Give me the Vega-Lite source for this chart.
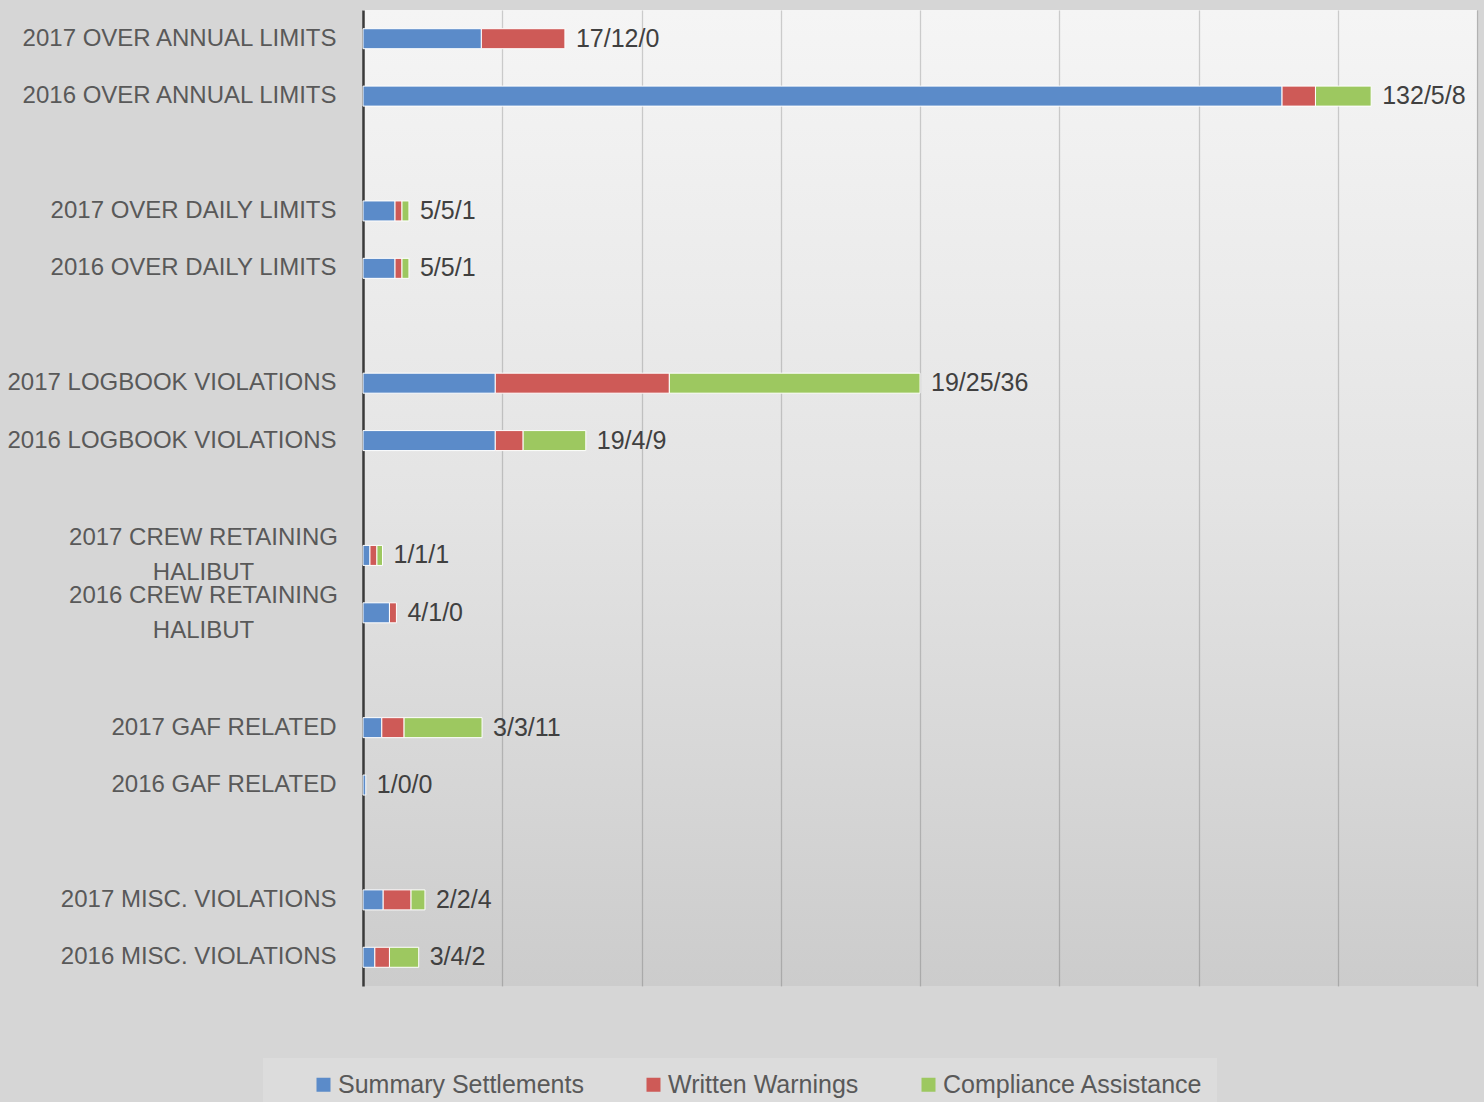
{
  "$schema": "https://vega.github.io/schema/vega-lite/v6.json",
  "width": 1114,
  "height": 976,
  "autosize": "none",
  "padding": {"left": 363, "top": 10, "right": 7, "bottom": 116},
  "background": "#d6d6d6",
  "view": {
    "stroke": null,
    "fill": {
      "gradient": "linear", "x1": 0, "y1": 0, "x2": 0, "y2": 1,
      "stops": [
        {"offset": 0, "color": "#f5f5f5"},
        {"offset": 0.5, "color": "#e4e4e4"},
        {"offset": 1, "color": "#cccccc"}
      ]
    }
  },
  "data": {
    "values": [
      {"cat": "2017 OVER ANNUAL LIMITS", "series": "Summary Settlements", "k": 1, "value": 17, "label": "17/12/0"},
      {"cat": "2017 OVER ANNUAL LIMITS", "series": "Written Warnings", "k": 2, "value": 12, "label": "17/12/0"},
      {"cat": "2016 OVER ANNUAL LIMITS", "series": "Summary Settlements", "k": 1, "value": 132, "label": "132/5/8"},
      {"cat": "2016 OVER ANNUAL LIMITS", "series": "Written Warnings", "k": 2, "value": 4.8, "label": "132/5/8"},
      {"cat": "2016 OVER ANNUAL LIMITS", "series": "Compliance Assistance", "k": 3, "value": 8, "label": "132/5/8"},
      {"cat": "2017 OVER DAILY LIMITS", "series": "Summary Settlements", "k": 1, "value": 4.6, "label": "5/5/1"},
      {"cat": "2017 OVER DAILY LIMITS", "series": "Written Warnings", "k": 2, "value": 1, "label": "5/5/1"},
      {"cat": "2017 OVER DAILY LIMITS", "series": "Compliance Assistance", "k": 3, "value": 1, "label": "5/5/1"},
      {"cat": "2016 OVER DAILY LIMITS", "series": "Summary Settlements", "k": 1, "value": 4.6, "label": "5/5/1"},
      {"cat": "2016 OVER DAILY LIMITS", "series": "Written Warnings", "k": 2, "value": 1, "label": "5/5/1"},
      {"cat": "2016 OVER DAILY LIMITS", "series": "Compliance Assistance", "k": 3, "value": 1, "label": "5/5/1"},
      {"cat": "2017 LOGBOOK VIOLATIONS", "series": "Summary Settlements", "k": 1, "value": 19, "label": "19/25/36"},
      {"cat": "2017 LOGBOOK VIOLATIONS", "series": "Written Warnings", "k": 2, "value": 25, "label": "19/25/36"},
      {"cat": "2017 LOGBOOK VIOLATIONS", "series": "Compliance Assistance", "k": 3, "value": 36, "label": "19/25/36"},
      {"cat": "2016 LOGBOOK VIOLATIONS", "series": "Summary Settlements", "k": 1, "value": 19, "label": "19/4/9"},
      {"cat": "2016 LOGBOOK VIOLATIONS", "series": "Written Warnings", "k": 2, "value": 4, "label": "19/4/9"},
      {"cat": "2016 LOGBOOK VIOLATIONS", "series": "Compliance Assistance", "k": 3, "value": 9, "label": "19/4/9"},
      {"cat": "2017 CREW RETAINING HALIBUT", "series": "Summary Settlements", "k": 1, "value": 1, "label": "1/1/1"},
      {"cat": "2017 CREW RETAINING HALIBUT", "series": "Written Warnings", "k": 2, "value": 1, "label": "1/1/1"},
      {"cat": "2017 CREW RETAINING HALIBUT", "series": "Compliance Assistance", "k": 3, "value": 0.8, "label": "1/1/1"},
      {"cat": "2016 CREW RETAINING HALIBUT", "series": "Summary Settlements", "k": 1, "value": 3.8, "label": "4/1/0"},
      {"cat": "2016 CREW RETAINING HALIBUT", "series": "Written Warnings", "k": 2, "value": 1, "label": "4/1/0"},
      {"cat": "2017 GAF RELATED", "series": "Summary Settlements", "k": 1, "value": 2.7, "label": "3/3/11"},
      {"cat": "2017 GAF RELATED", "series": "Written Warnings", "k": 2, "value": 3.2, "label": "3/3/11"},
      {"cat": "2017 GAF RELATED", "series": "Compliance Assistance", "k": 3, "value": 11.2, "label": "3/3/11"},
      {"cat": "2016 GAF RELATED", "series": "Summary Settlements", "k": 1, "value": 0.4, "label": "1/0/0"},
      {"cat": "2017 MISC. VIOLATIONS", "series": "Summary Settlements", "k": 1, "value": 2.9, "label": "2/2/4"},
      {"cat": "2017 MISC. VIOLATIONS", "series": "Written Warnings", "k": 2, "value": 4, "label": "2/2/4"},
      {"cat": "2017 MISC. VIOLATIONS", "series": "Compliance Assistance", "k": 3, "value": 2, "label": "2/2/4"},
      {"cat": "2016 MISC. VIOLATIONS", "series": "Summary Settlements", "k": 1, "value": 1.7, "label": "3/4/2"},
      {"cat": "2016 MISC. VIOLATIONS", "series": "Written Warnings", "k": 2, "value": 2.1, "label": "3/4/2"},
      {"cat": "2016 MISC. VIOLATIONS", "series": "Compliance Assistance", "k": 3, "value": 4.2, "label": "3/4/2"}
    ]
  },
  "encoding": {
    "y": {
      "field": "cat",
      "type": "nominal",
      "scale": {
        "domain": [
          "2017 OVER ANNUAL LIMITS", "2016 OVER ANNUAL LIMITS", "gap1",
          "2017 OVER DAILY LIMITS", "2016 OVER DAILY LIMITS", "gap2",
          "2017 LOGBOOK VIOLATIONS", "2016 LOGBOOK VIOLATIONS", "gap3",
          "2017 CREW RETAINING HALIBUT", "2016 CREW RETAINING HALIBUT", "gap4",
          "2017 GAF RELATED", "2016 GAF RELATED", "gap5",
          "2017 MISC. VIOLATIONS", "2016 MISC. VIOLATIONS"
        ],
        "paddingInner": 0,
        "paddingOuter": 0
      },
      "axis": {
        "title": null,
        "domain": true,
        "domainColor": "#3a3a3a",
        "domainWidth": 2.5,
        "ticks": false,
        "grid": false,
        "labelPadding": {"condition": {"test": "indexof(datum.value, 'HALIBUT') >= 0", "value": 160}, "value": 27},
        "labelAlign": {"condition": {"test": "indexof(datum.value, 'HALIBUT') >= 0", "value": "center"}, "value": "right"},
        "labelOffset": {"condition": {"test": "indexof(datum.value, 'HALIBUT') >= 0", "value": -17}, "value": 0},
        "labelFont": "Liberation Sans",
        "labelFontSize": 24,
        "labelColor": "#595959",
        "labelLimit": 400,
        "labelLineHeight": 35,
        "labelExpr": "slice(datum.value, 0, 3) === 'gap' ? '' : (indexof(datum.value, 'HALIBUT') >= 0 ? [replace(datum.value, ' HALIBUT', ''), 'HALIBUT'] : datum.value)"
      }
    }
  },
  "layer": [
    {
      "mark": {"type": "bar", "size": 20, "stroke": "white", "strokeWidth": 1},
      "encoding": {
        "x": {
          "field": "value",
          "type": "quantitative",
          "stack": "zero",
          "scale": {"domain": [0, 160], "nice": false},
          "axis": {
            "title": null,
            "labels": false,
            "ticks": false,
            "domain": false,
            "grid": true,
            "gridColor": "#000000",
            "gridOpacity": 0.17,
            "gridWidth": 1.3,
            "values": [20, 40, 60, 80, 100, 120, 140, 160]
          }
        },
        "color": {
          "field": "series",
          "type": "nominal",
          "scale": {
            "domain": ["Summary Settlements", "Written Warnings", "Compliance Assistance"],
            "range": ["#5B8BC9", "#CE5A57", "#9DC860"]
          },
          "legend": {
            "title": null,
            "orient": "none",
            "direction": "horizontal",
            "legendX": -100,
            "legendY": 1048,
            "fillColor": "#dcdcdc",
            "padding": 14,
            "symbolType": "square",
            "symbolSize": 196,
            "symbolOffset": 34,
            "symbolStrokeWidth": 0,
            "labelFont": "Liberation Sans",
            "labelFontSize": 25,
            "labelColor": "#595959",
            "labelOffset": 2,
            "columnPadding": 23,
            "labelLimit": 400
          }
        },
        "order": {"field": "k", "type": "quantitative"}
      }
    },
    {
      "transform": [
        {"aggregate": [{"op": "sum", "field": "value", "as": "total"}], "groupby": ["cat", "label"]}
      ],
      "mark": {"type": "text", "align": "left", "baseline": "middle", "dx": 11, "font": "Liberation Sans", "fontSize": 25, "color": "#404040"},
      "encoding": {
        "x": {"field": "total", "type": "quantitative"},
        "text": {"field": "label"}
      }
    }
  ]
}
